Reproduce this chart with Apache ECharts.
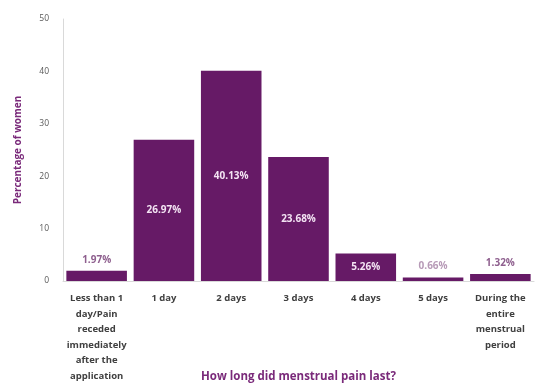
<!DOCTYPE html>
<html>
<head>
<meta charset="utf-8">
<script src="https://cdn.jsdelivr.net/npm/echarts@6/dist/echarts.min.js"></script>
<style>
  html, body { margin: 0; padding: 0; background: #fff; }
  #chart { width: 536px; height: 385px; }
</style>
</head>
<body>
<div id="chart"></div>
<script>
// Duration of menstrual pain, share of women per answer
const categories = [
  'Less than 1\nday/Pain\nreceded\nimmediately\nafter the\napplication',
  '1 day',
  '2 days',
  '3 days',
  '4 days',
  '5 days',
  'During the\nentire\nmenstrual\nperiod'
];
const percentages = [1.97, 26.97, 40.13, 23.68, 5.26, 0.66, 1.32];
const yTicks = { min: 0, max: 50, interval: 10 };

const barColor = '#661a66';
const fontFamily = '"Open Sans", "Noto Sans", sans-serif';

const chart = echarts.init(document.getElementById('chart'));

const data = percentages.map(function (v) {
  const inside = v >= 5;
  return {
    value: v,
    label: {
      position: inside ? 'inside' : 'top',
      color: inside ? '#f3e3f3' : (v < 1 ? '#b79ab7' : '#8e5f8e')
    }
  };
});

chart.setOption({
  animation: false,
  backgroundColor: '#ffffff',
  grid: {
    left: 63, right: 2, top: 19, bottom: 104,
    containLabel: false,
    outerBoundsMode: 'none'
  },
  xAxis: {
    type: 'category',
    data: categories,
    axisLine: { show: true, lineStyle: { color: '#d9d9d9' } },
    axisTick: { show: false },
    axisLabel: {
      interval: 0,
      color: '#404040',
      fontFamily: fontFamily,
      fontWeight: 'bold',
      fontSize: 9.5,
      lineHeight: 15.5,
      margin: 10,
      overflow: 'none'
    },
    name: 'How long did menstrual pain last?',
    nameLocation: 'middle',
    nameGap: 90,
    nameMoveOverlap: false,
    nameTextStyle: {
      color: '#7a2a7a',
      fontFamily: fontFamily,
      fontWeight: 'bold',
      fontSize: 11.5
    }
  },
  yAxis: {
    type: 'value',
    min: yTicks.min,
    max: yTicks.max,
    interval: yTicks.interval,
    axisLine: { show: true, lineStyle: { color: '#d9d9d9' } },
    axisTick: { show: false },
    splitLine: { show: false },
    axisLabel: {
      color: '#595959',
      fontFamily: fontFamily,
      fontSize: 8.5,
      margin: 14
    },
    name: 'Percentage of women',
    nameLocation: 'middle',
    nameGap: 40,
    nameRotate: 90,
    nameMoveOverlap: false,
    nameTextStyle: {
      color: '#7a2a7a',
      fontFamily: fontFamily,
      fontWeight: 'bold',
      fontSize: 10
    }
  },
  series: [{
    type: 'bar',
    data: data,
    barCategoryGap: '10%',
    itemStyle: { color: barColor },
    label: {
      show: true,
      fontFamily: fontFamily,
      fontWeight: 'bold',
      fontSize: 10,
      distance: 6,
      formatter: function (p) { return p.value.toFixed(2) + '%'; }
    }
  }]
});
</script>
</body>
</html>
